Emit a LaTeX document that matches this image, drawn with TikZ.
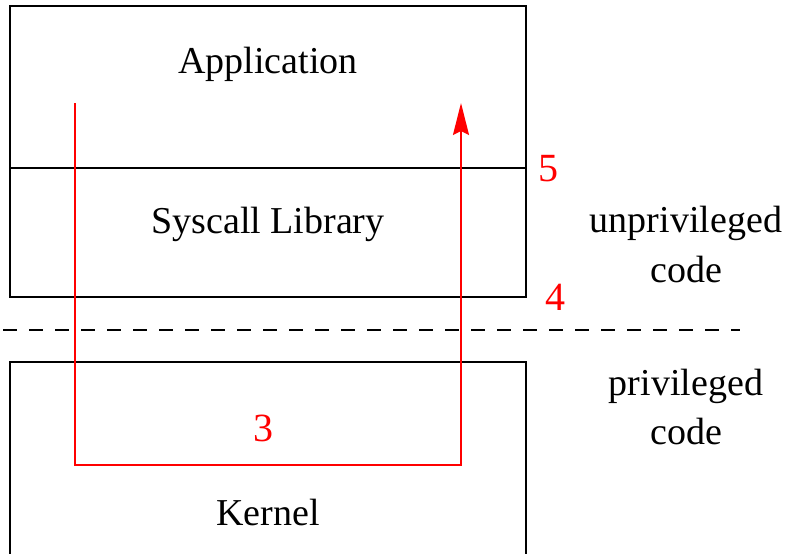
\documentclass[tikz,border=0pt]{standalone}
\usepackage{fontspec}
\setmainfont{Liberation Serif}
\usetikzlibrary{arrows.meta}
\begin{document}
\begin{tikzpicture}[x=1pt,y=-1pt,
  box/.style={draw=black,line width=2pt},
  lbl/.style={font=\fontsize{38}{50}\selectfont,anchor=base,inner sep=0pt},
  num/.style={lbl,font=\fontsize{40}{50}\selectfont,text=red},
  flow/.style={draw=red,line width=2pt,-{Stealth[length=32pt,width=16pt,inset=4pt]}},
  sep/.style={draw=black,line width=2pt,dash pattern=on 13.5pt off 12.5pt}]
\useasboundingbox (0,0) rectangle (788,554);
\fill[white] (0,0) rectangle (788,554);
% boxes
\draw[box] (9.5,6) rectangle (526,297);
\draw[box] (9.5,168) -- (526,168);
\draw[box] (9.5,557) -- (9.5,362) -- (526,362) -- (526,557);
% separator
\coordinate (dl) at (3,330);
\coordinate (dr) at (740,330);
\draw[sep] (dl) -- (dr);
% texts
\node[lbl] (app) at (268,73) {Application};
\node[lbl] (lib) at (268,233) {Syscall Library};
\node[lbl] (kern) at (268,525) {Kernel};
\node[lbl] (unp1) at (686,232) {unprivileged};
\node[lbl] (unp2) at (686,282) {code};
\node[lbl] (pri1) at (686,395) {privileged};
\node[lbl] (pri2) at (686,444) {code};
\node[num] (n5) at (548,181) {5};
\node[num] (n4) at (555,310) {4};
\node[num] (n3) at (263,441) {3};
% red flow
\coordinate (s) at (75,103);
\coordinate (c1) at (75,465);
\coordinate (c2) at (461,465);
\coordinate (e) at (461,103);
\draw[flow] (s) -- (c1) -- (c2) -- (e);
\end{tikzpicture}
\end{document}
